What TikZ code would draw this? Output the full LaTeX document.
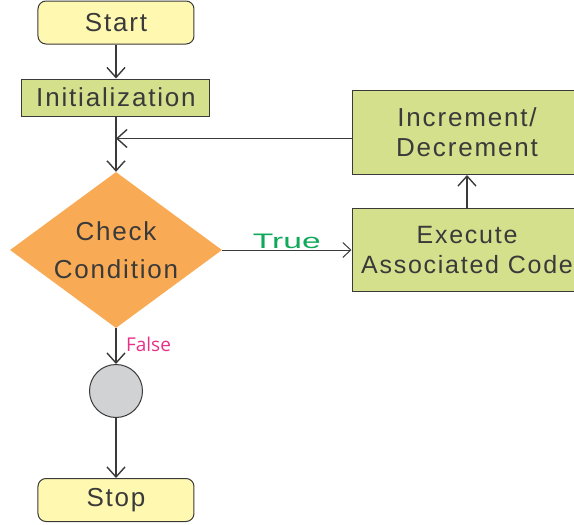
\documentclass[tikz,border=0pt]{standalone}
\usepackage{fontspec}
\setmainfont{Liberation Sans}
\newfontfamily\boxfont[LetterSpace=7]{Liberation Sans}
\newfontfamily\labfont{Open Sans}
\usepackage{tikz}
\usetikzlibrary{shapes.geometric, arrows.meta}
\definecolor{startyellow}{HTML}{FFF8B0}
\definecolor{stepgreen}{HTML}{D4E08C}
\definecolor{condorange}{HTML}{F9AA55}
\definecolor{joingray}{HTML}{D1D2D4}
\definecolor{linegray}{HTML}{3A3A3A}
\definecolor{truegreen}{HTML}{10A85A}
\definecolor{falsepink}{HTML}{E8308A}
\tikzstyle{startstop} = [rectangle, rounded corners=8pt, minimum width=156pt, minimum height=43pt, text centered, draw=linegray, line width=1pt, fill=startyellow, font=\boxfont\fontsize{26}{38}\selectfont, text=linegray]
\tikzstyle{process} = [rectangle, minimum width=188pt, minimum height=37pt, text centered, draw=linegray, line width=1pt, fill=stepgreen, font=\boxfont\fontsize{26}{30}\selectfont, text=linegray]
\tikzstyle{decision} = [diamond, minimum width=212pt, minimum height=156pt, inner sep=-12pt, align=center, draw=none, fill=condorange, font=\boxfont\fontsize{26}{38}\selectfont, text=linegray]
\tikzstyle{joindot} = [circle, minimum size=53pt, inner sep=0pt, draw=linegray, line width=1pt, fill=joingray]
\tikzstyle{arrow} = [line width=1.4pt, draw=linegray, -{Straight Barb[length=10pt,width=18pt,line width=1.4pt]}]
\tikzstyle{thinarrow} = [line width=1pt, draw=linegray, -{Straight Barb[length=8pt,width=15pt,line width=1pt]}]

\begin{document}
\begin{tikzpicture}[node distance=75pt]
\clip (-116pt,22.5pt) rectangle (458pt,-502.5pt);

\node (start) [startstop] {Start};
\node (init) [process, below of=start] {Initialization};
\node (check) [decision, below of=init, yshift=-77.5pt] {Check\\Condition};
\node (join) [joindot, below of=check, yshift=-66pt] {};
\node (stop) [startstop, below of=join, yshift=-34pt] {Stop};
\node (exec) [process, right of=check, xshift=276pt, minimum width=230pt, minimum height=83pt, align=center, font=\boxfont\fontsize{25}{30}\selectfont] {Execute\\Associated Code};
\node (incr) [process, above of=exec, yshift=42.5pt, minimum width=230pt, minimum height=84pt, align=center, font=\boxfont\fontsize{26}{30}\selectfont] {Increment/\\Decrement};

\draw [arrow] (start) -- (init);
\draw [arrow] (init) -- (check);
\draw [thinarrow] (check) -- node[anchor=south, inner sep=1pt, text=truegreen, font=\fontsize{21}{21}\selectfont] {\scalebox{1.6}[1]{True}} (exec);
\draw [arrow] (check) -- node[anchor=west, xshift=6pt, yshift=2pt, text=falsepink, font=\labfont\fontsize{19}{19}\selectfont] {False} (join);
\draw [arrow] (join) -- (stop);
\draw [arrow] (exec) -- (incr);
\draw [arrow] ([yshift=-6pt]incr.west) -- ([yshift=-6pt]incr.west -| init.south);

\end{tikzpicture}
\end{document}
